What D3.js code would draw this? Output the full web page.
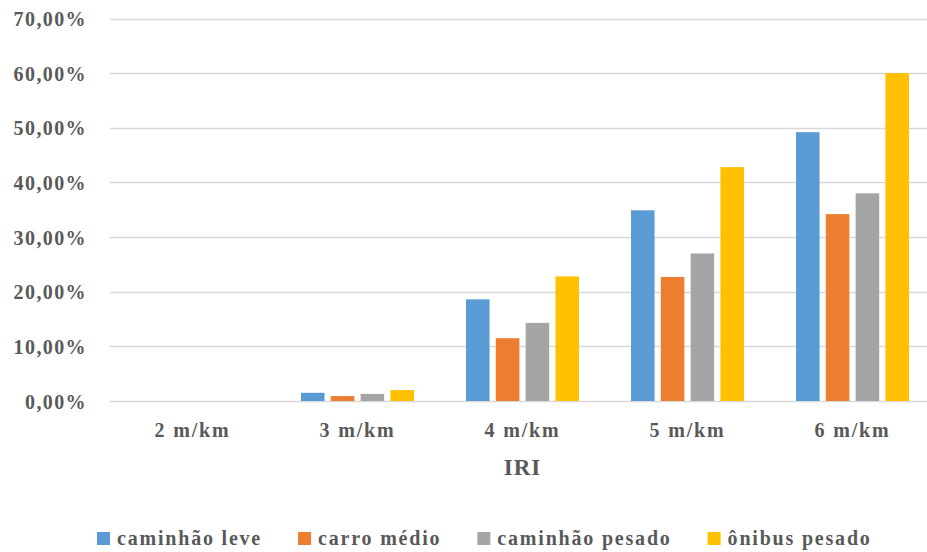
<!DOCTYPE html>
<html>
<head>
<meta charset="utf-8">
<script src="https://cdn.jsdelivr.net/npm/d3@7"></script>
<style>
  html, body { margin: 0; padding: 0; background: #fff; }
  svg { display: block; }
  text { font-family: "Liberation Serif", "Times New Roman", serif; font-weight: bold; fill: #595959; }
</style>
</head>
<body>
<svg id="chart" width="927" height="552"></svg>
<script>
// Categories (IRI levels) and series
const categories = ["2 m/km", "3 m/km", "4 m/km", "5 m/km", "6 m/km"];
const seriesNames = ["caminhão leve", "carro médio", "caminhão pesado", "ônibus pesado"];
const seriesColors = ["#5B9BD5", "#ED7D31", "#A5A5A5", "#FFC000"];

// Values in percent, one array per series (same order as categories)
const caminhaoLeve   = [0, 1.5, 18.6, 34.9, 49.2];
const carroMedio     = [0, 0.9, 11.5, 22.7, 34.2];
const caminhaoPesado = [0, 1.3, 14.3, 27.0, 38.0];
const onibusPesado   = [0, 2.0, 22.8, 42.8, 60.0];

const yTicks = [0, 10, 20, 30, 40, 50, 60, 70];
const xTitle = "IRI";

const seriesValues = [caminhaoLeve, carroMedio, caminhaoPesado, onibusPesado];

const svg = d3.select("#chart");
const W = 927, H = 552;
const plot = { left: 110, right: 935, top: 18.5, bottom: 401 };

const y = d3.scaleLinear().domain([0, 70]).range([plot.bottom, plot.top]);
const x0 = d3.scaleBand().domain(categories).range([plot.left, plot.right]).padding(0);
const groupInset = 26;
const x1 = d3.scaleBand().domain(seriesNames)
  .range([groupInset, x0.bandwidth() - groupInset])
  .paddingInner(0.21).paddingOuter(0);

const fmt = v => d3.format(".2f")(v).replace(".", ",") + "%";

// Gridlines
svg.append("g")
  .selectAll("line")
  .data(yTicks)
  .join("line")
  .attr("x1", plot.left).attr("x2", W)
  .attr("y1", d => Math.round(y(d)) + 0.5).attr("y2", d => Math.round(y(d)) + 0.5)
  .attr("stroke", "#d9d9d9").attr("stroke-width", 1.5);

// Y axis labels
const yAxis = d3.axisLeft(y).tickValues(yTicks).tickFormat(fmt).tickSize(0).tickPadding(0);
const gy = svg.append("g").attr("transform", "translate(87,0)").call(yAxis);
gy.select(".domain").remove();
gy.selectAll("text")
  .attr("font-size", 20).attr("letter-spacing", 1.4)
  .attr("dy", "0.35em")
  .style("font-family", "'Liberation Serif', serif").style("font-weight", "bold").attr("fill", "#595959");

// Bars
const rows = categories.map((c, i) => ({ cat: c, vals: seriesNames.map((s, j) => ({ s, j, v: seriesValues[j][i] })) }));
const groups = svg.append("g").selectAll("g")
  .data(rows).join("g")
  .attr("transform", d => `translate(${x0(d.cat)},0)`);
groups.selectAll("rect")
  .data(d => d.vals.filter(o => o.v > 0))
  .join("rect")
  .attr("x", d => x1(d.s))
  .attr("width", x1.bandwidth())
  .attr("y", d => y(d.v))
  .attr("height", d => y(0) - y(d.v))
  .attr("fill", d => seriesColors[d.j]);

// X axis labels
const xAxis = d3.axisBottom(x0).tickSize(0).tickPadding(0);
const gx = svg.append("g").attr("transform", `translate(0,${plot.bottom})`).call(xAxis);
gx.select(".domain").remove();
gx.selectAll("text")
  .attr("y", 36).attr("dy", 0)
  .attr("font-size", 20).attr("letter-spacing", 1.8)
  .style("font-family", "'Liberation Serif', serif").style("font-weight", "bold").attr("fill", "#595959");

// Axis title
svg.append("text")
  .attr("x", (plot.left + plot.right) / 2).attr("y", 475)
  .attr("text-anchor", "middle")
  .attr("font-size", 23).attr("letter-spacing", 1)
  .text(xTitle);

// Legend laid out left to right
const legend = svg.append("g").attr("transform", "translate(0,539)");
let lx = 97;
seriesNames.forEach((name, j) => {
  legend.append("rect")
    .attr("x", lx).attr("y", -7).attr("width", 13).attr("height", 13)
    .attr("fill", seriesColors[j]);
  const t = legend.append("text")
    .attr("x", lx + 20).attr("y", 6)
    .attr("font-size", 20).attr("letter-spacing", 1.8)
    .text(name);
  lx += 20 + t.node().getComputedTextLength() + 36;
});
</script>
</body>
</html>
